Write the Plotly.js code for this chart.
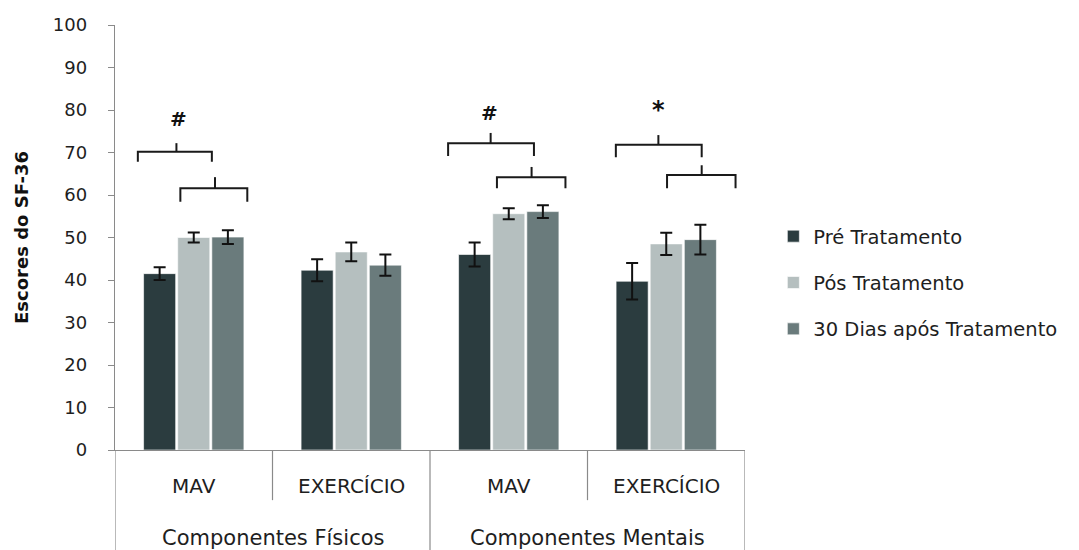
<!DOCTYPE html>
<html>
<head>
<meta charset="utf-8">
<script src="https://cdn.plot.ly/plotly-3.0.1.min.js"></script>
<style>
html,body{margin:0;padding:0;background:#fff;}
#chart{width:1079px;height:550px;}
</style>
</head>
<body>
<div id="chart"></div>
<script>
// ---- data ----
var innerCats = ["MAV", "EXERCÍCIO", "MAV", "EXERCÍCIO"];
var outerCats = ["Componentes Físicos", "Componentes Mentais"];
var seriesNames = ["Pré Tratamento", "Pós Tratamento", "30 Dias após Tratamento"];
var preVals  = [41.5, 42.3, 46.0, 39.7];
var preErr   = [1.5, 2.6, 2.8, 4.3];
var posVals  = [50.0, 46.6, 55.6, 48.5];
var posErr   = [1.2, 2.2, 1.3, 2.6];
var d30Vals  = [50.1, 43.5, 56.1, 49.5];
var d30Err   = [1.6, 2.5, 1.5, 3.5];
var yTicks = [0, 10, 20, 30, 40, 50, 60, 70, 80, 90, 100];
var sigMarks = ["#", "", "#", "*"];

var colors = ["#2b3c3f", "#b5bfbf", "#6a7b7c"];
var xIdx = innerCats.map(function(_, i){ return i; });
var vals = [preVals, posVals, d30Vals];
var errs = [preErr, posErr, d30Err];

var font = "'DejaVu Sans', Verdana, sans-serif";
var textColor = "#1e1e1e";

var traces = seriesNames.map(function(name, k){
  return {
    type: "bar",
    name: name,
    x: xIdx,
    y: vals[k],
    legendgroup: "g" + k,
    marker: {color: colors[k], line: {color: "rgba(255,255,255,0.6)", width: 1}},
    error_y: {type: "data", array: errs[k], visible: true, color: "#111", thickness: 2, width: 6},
    hoverinfo: "y"
  };
});

// ---- brackets (significance) ----
var shapes = [];
var annotations = [];
var lineStyle = {color: "#1a1a1a", width: 2};
function bracket(x0, x1, yEnd, yTop, tipX, yTip){
  shapes.push({type: "path", xref: "x", yref: "y",
    path: "M" + x0 + "," + yEnd + " L" + x0 + "," + yTop + " L" + x1 + "," + yTop + " L" + x1 + "," + yEnd,
    line: lineStyle});
  shapes.push({type: "line", xref: "x", yref: "y", x0: tipX, x1: tipX, y0: yTop, y1: yTip, line: lineStyle});
}
// group 0 (MAV físico)
bracket(0 - 0.355, 0 + 0.115, 67.8, 70.2, 0 - 0.11, 72.2);
bracket(0 - 0.085, 0 + 0.34, 58.4, 61.6, 0 + 0.135, 64.2);
// group 2 (MAV mental)
bracket(2 - 0.385, 2 + 0.16, 69.2, 72.2, 2 - 0.115, 74.6);
bracket(2 - 0.075, 2 + 0.36, 61.6, 64.2, 2 + 0.145, 66.6);
// group 3 (EXERCÍCIO mental)
bracket(3 - 0.32, 3 + 0.225, 68.9, 71.8, 3 - 0.05, 74.1);
bracket(3 + 0.005, 3 + 0.44, 61.6, 64.7, 3 + 0.225, 67.0);

var markY = [77.8, 0, 79.4, 80.0];
var markX = [-0.1, 0, 1.88, 2.95];
var markSize = [20, 0, 20, 24];
sigMarks.forEach(function(m, i){
  if (!m) return;
  annotations.push({xref: "x", yref: "y", x: markX[i], y: markY[i], text: "<b>" + m + "</b>", showarrow: false,
    font: {family: font, size: markSize[i], color: "#111"}});
});

// ---- category axis labels & separators ----
innerCats.forEach(function(c, i){
  annotations.push({xref: "x", yref: "paper", x: i, y: -0.084, text: c, showarrow: false,
    yanchor: "middle", font: {family: font, size: 20, color: textColor}});
});
outerCats.forEach(function(c, j){
  annotations.push({xref: "x", yref: "paper", x: 2 * j + 0.5, y: -0.206, text: c, showarrow: false,
    yanchor: "middle", font: {family: font, size: 21, color: textColor}});
});
var sepColor = "#8a8a8a";
[-0.5, 1.5, 3.5].forEach(function(b){
  shapes.push({type: "line", xref: "x", yref: "paper", x0: b, x1: b, y0: 0, y1: -0.24,
    line: {color: sepColor, width: 1.2}});
});
[0.5, 2.5].forEach(function(b){
  shapes.push({type: "line", xref: "x", yref: "paper", x0: b, x1: b, y0: 0, y1: -0.118,
    line: {color: sepColor, width: 1.2}});
});

var layout = {
  width: 1079, height: 550,
  paper_bgcolor: "#fff", plot_bgcolor: "#fff",
  margin: {l: 115, r: 334, t: 25, b: 100, autoexpand: false},
  barmode: "group", bargap: 0.35, bargroupgap: 0.06,
  showlegend: true,
  legend: {
    x: 1.045, xanchor: "left", y: 0.393, yanchor: "middle",
    font: {family: font, size: 19.5, color: textColor},
    traceorder: "grouped", tracegroupgap: 18,
    itemwidth: 30, bgcolor: "rgba(0,0,0,0)"
  },
  xaxis: {
    range: [-0.5, 3.5], showticklabels: false, ticks: "", showgrid: false, zeroline: false,
    showline: true, linecolor: sepColor, linewidth: 1.2, fixedrange: true
  },
  yaxis: {
    range: [0, 100], tickvals: yTicks, ticks: "outside", ticklen: 6, tickcolor: sepColor,
    ticklabelstandoff: 17,
    showgrid: false, zeroline: false, showline: true, linecolor: sepColor, linewidth: 1.2,
    tickfont: {family: font, size: 18, color: textColor},
    title: {text: "<b>Escores do SF-36</b>", font: {family: font, size: 18, color: "#111"}, standoff: 19}
  },
  shapes: shapes,
  annotations: annotations
};

Plotly.newPlot("chart", traces, layout, {displayModeBar: false, staticPlot: true});
</script>
</body>
</html>
